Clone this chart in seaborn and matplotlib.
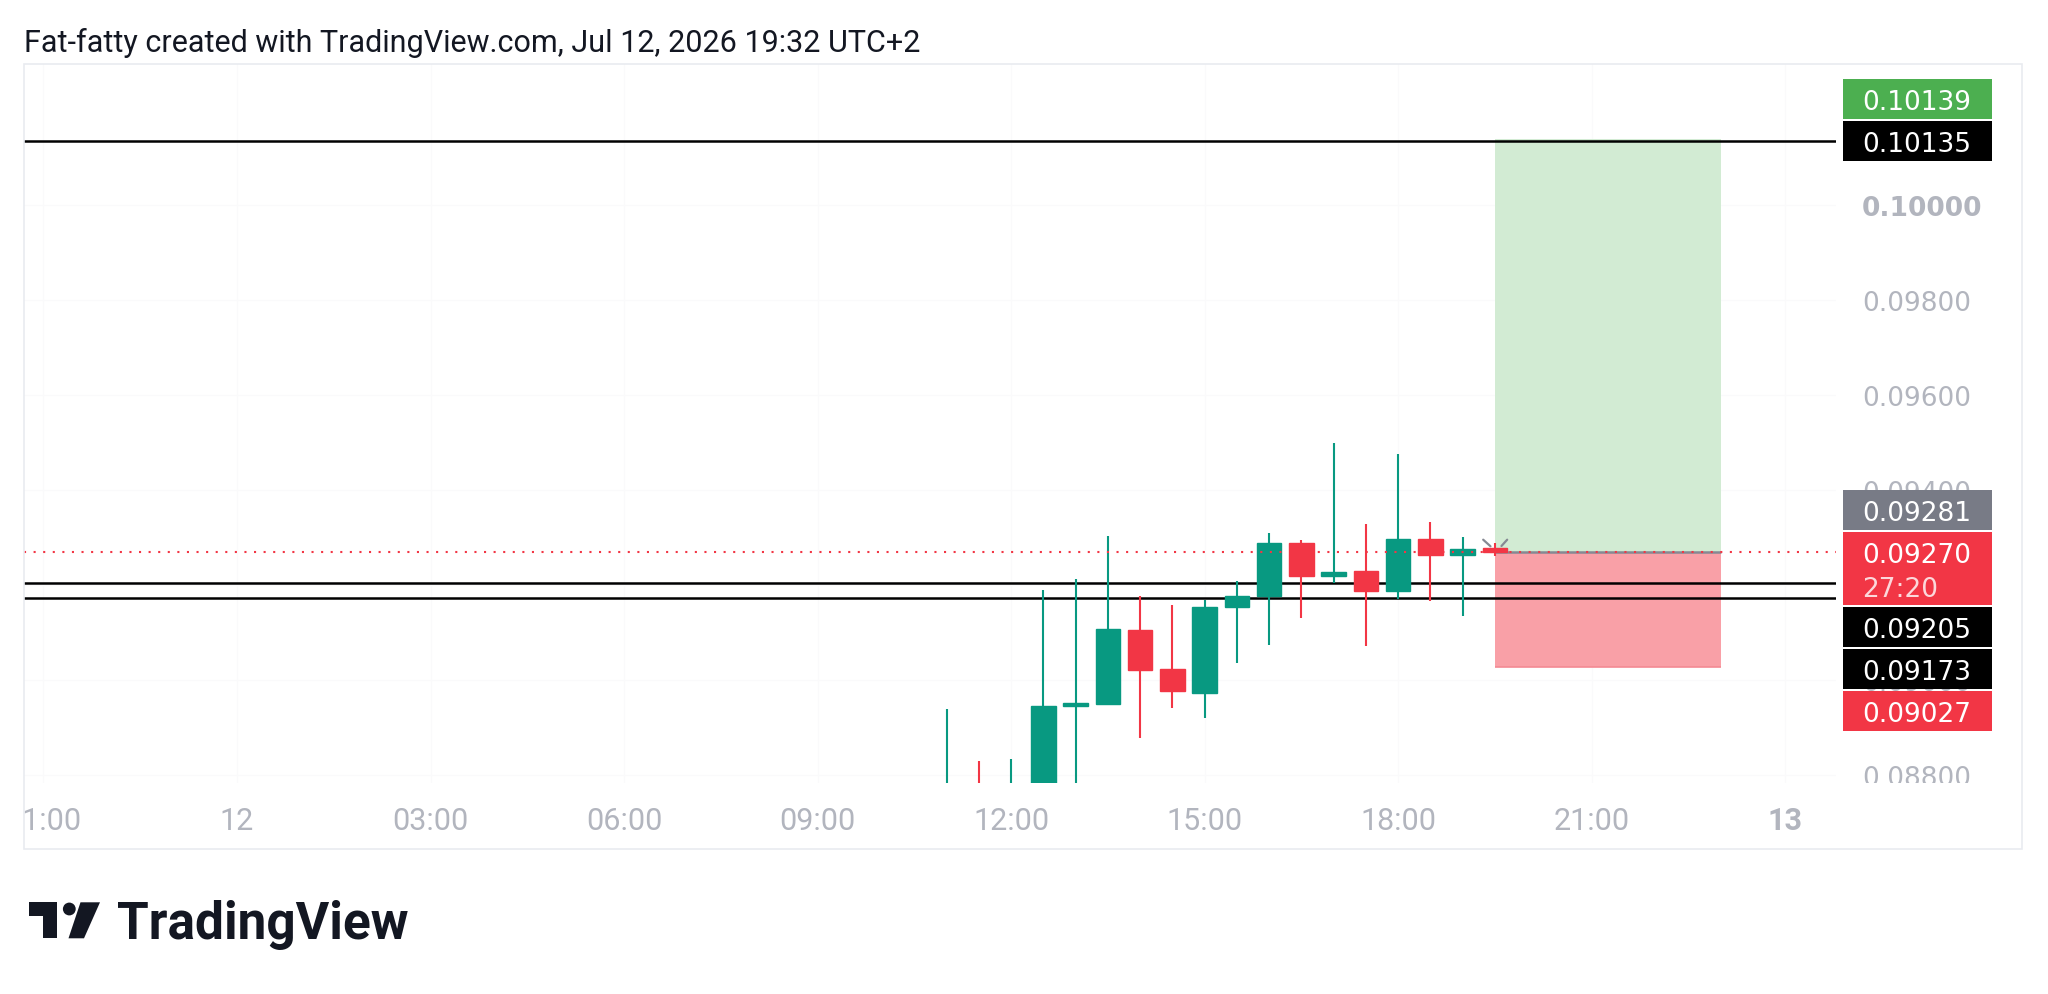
import numpy as np
import pandas as pd
import matplotlib
matplotlib.use("Agg")
import matplotlib.pyplot as plt
import matplotlib.transforms as mtransforms
from matplotlib.patches import Rectangle, Polygon, Circle
import seaborn as sns

# ------------------------------------------------------------------ data
candle_times = ["11:00", "11:30", "12:00", "12:30", "13:00", "13:30", "14:00", "14:30", "15:00",
                "15:30", "16:00", "16:30", "17:00", "17:30", "18:00", "18:30", "19:00", "19:30"]
opens = [0.08680, 0.08750, 0.08720, 0.08760, 0.08946, 0.08949, 0.09106, 0.09024, 0.08973,
         0.09155, 0.09178, 0.09288, 0.09220, 0.09230, 0.09187, 0.09297, 0.09264, 0.09278]
highs = [0.08940, 0.08830, 0.08834, 0.09191, 0.09213, 0.09303, 0.09177, 0.09159, 0.09168,
         0.09208, 0.09309, 0.09296, 0.09499, 0.09329, 0.09476, 0.09334, 0.09302, 0.09289]
lows = [0.08640, 0.08690, 0.08700, 0.08740, 0.08720, 0.08947, 0.08879, 0.08942, 0.08921,
        0.09037, 0.09075, 0.09131, 0.09205, 0.09073, 0.09171, 0.09167, 0.09136, 0.09262]
closes = [0.08750, 0.08720, 0.08760, 0.08946, 0.08952, 0.09107, 0.09021, 0.08977, 0.09155,
          0.09178, 0.09288, 0.09220, 0.09227, 0.09187, 0.09297, 0.09264, 0.09276, 0.09270]

level_prices = [0.10135, 0.09205, 0.09173]
last_price = 0.09270
countdown_text = "27:20"
marker_price = 0.09281
position_entry = 0.09270
position_target = 0.10139
position_stop = 0.09027
position_start = "19:30"
position_end = "23:00"

price_ticks = [0.088, 0.090, 0.092, 0.094, 0.096, 0.098, 0.100]
time_ticks = [-3, 0, 3, 6, 9, 12, 15, 18, 21, 24]
time_tick_labels = ["21:00", "12", "03:00", "06:00", "09:00", "12:00", "15:00", "18:00", "21:00", "13"]
bold_time_labels = ["13"]
bold_price_ticks = [0.100]

title_text = "Fat-fatty created with TradingView.com, Jul 12, 2026 19:32 UTC+2"
brand_text = "TradingView"

x_range = (-3.31, 24.79)
y_range = (0.087847, 0.102967)

# ------------------------------------------------------------------ style
sns.set_theme(style="white")
plt.rcParams["font.family"] = ["Roboto", "DejaVu Sans"]
up_col, down_col = sns.color_palette(["#089981", "#f23645"])
GREEN_LBL = "#4caf50"
GRAY_LBL = "#787b86"
RED_LBL = "#f23645"
AXIS_TXT = "#b2b5be"

W, H = 2048, 995
fig = plt.figure(figsize=(W / 100, H / 100), dpi=100)
fig.patch.set_facecolor("white")


def fx(px):
    return px / W


def fy(py):
    return 1 - py / H


L, R, T, B, BOT, RIGHT = 23.5, 1836.0, 65.3, 783.5, 850.0, 2022.0
ax = fig.add_axes([fx(L), fy(B), fx(R) - fx(L), (B - T) / H])
axp = fig.add_axes([fx(R), fy(B), fx(RIGHT) - fx(R), (B - T) / H], sharey=ax)
axt = fig.add_axes([fx(L), fy(BOT), fx(R) - fx(L), (BOT - B) / H], sharex=ax)
for a in (ax, axp, axt):
    a.set_axis_off()
ax.set_xlim(*x_range)
ax.set_ylim(*y_range)
axp.set_xlim(0, 1)
axt.set_ylim(0, 1)

# frame
fig.add_artist(Rectangle((fx(L), fy(BOT)), fx(RIGHT) - fx(L), (BOT - T) / H,
                         transform=fig.transFigure, fill=False, ec="#e9ebf0", lw=1.2))


def to_hours(s):
    hh, mm = s.split(":")
    return int(hh) + int(mm) / 60.0


df = pd.DataFrame({"t": [to_hours(s) for s in candle_times], "o": opens, "h": highs,
                   "l": lows, "c": closes})
df["up"] = df["c"] >= df["o"]
df["col"] = [up_col if u else down_col for u in df["up"]]

# very faint grid
for t in time_ticks:
    ax.axvline(t, color="#fafafb", lw=1, zorder=0)
for p in price_ticks:
    ax.axhline(p, color="#fafafb", lw=1, zorder=0)

# position tool
ps, pe = to_hours(position_start), to_hours(position_end)
ax.add_patch(Rectangle((ps, position_entry), pe - ps, position_target - position_entry,
                       fc="#d2ebd3", ec="none", zorder=1))
ax.add_patch(Rectangle((ps, position_stop), pe - ps, position_entry - position_stop,
                       fc="#f9a0a7", ec="none", zorder=1))
ax.hlines(position_stop, ps, pe, color="#f48a93", lw=1.2, zorder=1.5)
ax.hlines(position_entry, ps, pe, color="#868993", lw=1.8, zorder=1.5)

# level lines
for lp in level_prices:
    ax.axhline(lp, color="black", lw=1.8, zorder=2)

# candles
ax.vlines(df["t"], df["l"], df["h"], colors=df["col"], lw=1.5, zorder=3)
ax.bar(df["t"], (df["c"] - df["o"]).abs(), bottom=np.minimum(df["o"], df["c"]), width=0.38,
       color=df["col"], edgecolor=df["col"], linewidth=1.0, zorder=3)

# last price dotted line
ax.axhline(last_price, color=RED_LBL, lw=1.5, ls=(0, (1, 3.6)), zorder=4)

# small gray marker strokes near last candle
base = mtransforms.ScaledTranslation(df["t"].iloc[-1], last_price, ax.transData)
for seg in ([(-11.6, 12.3), (-4.3, 5.7)], [(6.7, 6.0), (12.4, 12.3)]):
    xs, ys = zip(*seg)
    ax.plot(xs, ys, color="#868993", lw=1.6, transform=mtransforms.IdentityTransform() + base,
            zorder=5, clip_on=False)

# price axis tick labels
blend_p = mtransforms.blended_transform_factory(axp.transAxes, axp.transData)
PFONT = ["DejaVu Sans"]
PSIZE = 19
cap_px = 0.729 * PSIZE * 100 / 72
tick_tr = mtransforms.offset_copy(blend_p, fig=fig, x=0, y=-cap_px / 2, units="dots")
for p in price_ticks:
    tt = axp.text(0.14, p, f"{p:.5f}", transform=tick_tr, ha="left", va="baseline",
                  color=AXIS_TXT, fontsize=PSIZE, family=PFONT,
                  fontweight="bold" if p in bold_price_ticks else "normal", zorder=1)
    tt.set_clip_on(True)
    tt.set_clip_box(axp.bbox)

# price labels with stacking
span = y_range[1] - y_range[0]
h = 40.5 / (B - T) * span
labels = [
    dict(v=position_target, col=GREEN_LBL, txt=f"{position_target:.5f}", anchor=False, up=h / 2, dn=h / 2),
    dict(v=level_prices[0], col="black", txt=f"{level_prices[0]:.5f}", anchor=True, up=h / 2, dn=h / 2),
    dict(v=marker_price, col=GRAY_LBL, txt=f"{marker_price:.5f}", anchor=False, up=h / 2, dn=h / 2),
    dict(v=last_price, col=RED_LBL, txt=f"{last_price:.5f}", anchor=True, up=h / 2, dn=h * 1.32,
         sub=countdown_text),
    dict(v=level_prices[1], col="black", txt=f"{level_prices[1]:.5f}", anchor=False, up=h / 2, dn=h / 2),
    dict(v=level_prices[2], col="black", txt=f"{level_prices[2]:.5f}", anchor=False, up=h / 2, dn=h / 2),
    dict(v=position_stop, col=RED_LBL, txt=f"{position_stop:.5f}", anchor=False, up=h / 2, dn=h / 2),
]
labels.sort(key=lambda d: -d["v"])
for d in labels:
    d["pos"] = d["v"]
gap = 1.5 / (B - T) * span
for i, d in enumerate(labels):
    if d["anchor"]:
        j = i + 1
        while j < len(labels) and not labels[j]["anchor"]:
            prev = labels[j - 1]
            labels[j]["pos"] = min(labels[j]["pos"], prev["pos"] - prev["dn"] - labels[j]["up"] - gap)
            j += 1
for i, d in enumerate(labels):
    if d["anchor"]:
        j = i - 1
        while j >= 0 and not labels[j]["anchor"]:
            nxt = labels[j + 1]
            labels[j]["pos"] = max(labels[j]["pos"], nxt["pos"] + nxt["up"] + labels[j]["dn"] + gap)
            j -= 1

for d in labels:
    axp.add_patch(Rectangle((0.038, d["pos"] - d["dn"]), 0.80, d["up"] + d["dn"],
                            transform=blend_p, fc=d["col"], ec="none", zorder=5, clip_on=False))
    axp.text(0.14, d["pos"], d["txt"], transform=tick_tr, ha="left", va="baseline",
             color="white", fontsize=PSIZE, family=PFONT, zorder=6, clip_on=False)
    if "sub" in d:
        axp.text(0.14, d["pos"] - 0.86 * h, d["sub"], transform=tick_tr, ha="left", va="baseline",
                 color="#fcd7da", fontsize=PSIZE, family=PFONT, zorder=6, clip_on=False)

# time axis labels
blend_t = mtransforms.blended_transform_factory(axt.transData, axt.transAxes)
for t, lab in zip(time_ticks, time_tick_labels):
    tt = axt.text(t, 0.30, lab, transform=blend_t, ha="center", va="baseline", color=AXIS_TXT,
                  fontsize=22, fontweight="bold" if lab in bold_time_labels else "normal")
    tt.set_clip_on(True)
    tt.set_clip_box(axt.bbox)

# header text
fig.text(fx(23.5), fy(51.7), title_text, ha="left", va="baseline", fontsize=22, color="#131722")

# brand logo + text
axl = fig.add_axes([fx(25), fy(942), fx(105) - fx(25), (942 - 900) / H])
axl.set_axis_off()
axl.set_xlim(25, 105)
axl.set_ylim(942, 900)
axl.add_patch(Polygon([(29.3, 903.3), (57.3, 903.3), (57.3, 939.3), (43.3, 939.3), (43.3, 917.3),
                       (29.3, 917.3)], closed=True, fc="#131722", ec="none"))
axl.add_patch(Circle((69.3, 910.0), 6.4, fc="#131722", ec="none"))
axl.add_patch(Polygon([(80.5, 903.3), (100.0, 903.3), (84.0, 939.3), (68.5, 939.3)], closed=True,
                      fc="#131722", ec="none"))
fig.text(fx(117), fy(939.3), brand_text, ha="left", va="baseline", fontsize=37, fontweight="bold",
         color="#131722")

fig.savefig("out.png", dpi=100, facecolor="white")
